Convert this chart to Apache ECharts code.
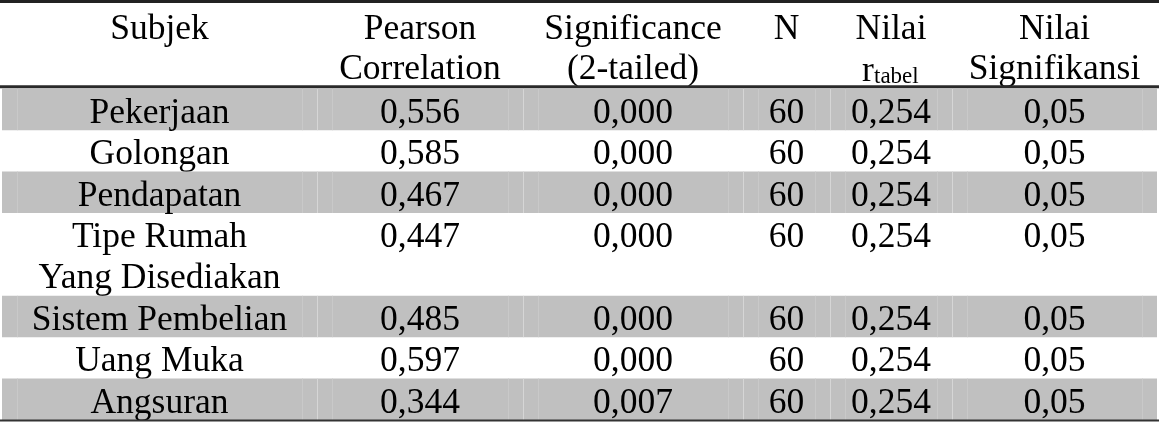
<!DOCTYPE html>
<html><head><meta charset="utf-8">
<script src="https://cdn.jsdelivr.net/npm/echarts@6/dist/echarts.min.js"></script>
<style>html,body{margin:0;padding:0;background:#fff;overflow:hidden}#c{width:1159px;height:422px}</style>
</head><body><div id="c"></div>
<script>
// ---- data ----
const subjects = ['Pekerjaan', 'Golongan', 'Pendapatan', 'Tipe Rumah\nYang Disediakan', 'Sistem Pembelian', 'Uang Muka', 'Angsuran'];
const pearson = [0.556, 0.585, 0.467, 0.447, 0.485, 0.597, 0.344];
const significance = [0.000, 0.000, 0.000, 0.000, 0.000, 0.000, 0.007];
const nValues = [60, 60, 60, 60, 60, 60, 60];
const rTabel = [0.254, 0.254, 0.254, 0.254, 0.254, 0.254, 0.254];
const signifikansi = [0.05, 0.05, 0.05, 0.05, 0.05, 0.05, 0.05];
const headerLine1 = ['Subjek', 'Pearson', 'Significance', 'N', 'Nilai', 'Nilai'];
const headerLine2 = ['', 'Correlation', '(2-tailed)', '', 'r', 'Signifikansi'];
const headerSub = ['', '', '', '', 'tabel', ''];

// ---- layout ----
const colEdges = [2, 317, 523, 743, 830, 952, 1157];
const rowLines = [1, 1, 1, 2, 1, 1, 1];
const headerLines = 2;
const FONT = '35.5px "Liberation Serif", "Times New Roman", serif';
const SUBFONT = '23px "Liberation Serif", "Times New Roman", serif';
const GRAY = '#c0c0c0';

const fmt = (v, d) => v.toFixed(d).replace('.', ',');
const cellText = (i) => [
  subjects[i], fmt(pearson[i], 3), fmt(significance[i], 3), String(nValues[i]), fmt(rTabel[i], 3), fmt(signifikansi[i], 2)
];

const bodyData = [];
let line = headerLines;
subjects.forEach((s, i) => { bodyData.push([line, line + rowLines[i], i]); line += rowLines[i]; });
const totalLines = line;

function txt(x, y, t, font, align) {
  return { type: 'text', x: x, y: y, silent: true,
    style: { text: t, font: font || FONT, fill: '#000', align: align || 'center', verticalAlign: 'middle' } };
}
function hline(x1, x2, y, w, c) {
  return { type: 'line', silent: true, shape: { x1: x1, y1: y, x2: x2, y2: y }, style: { stroke: c, lineWidth: w } };
}
function vline(x, y1, y2, c) {
  return { type: 'line', silent: true, shape: { x1: x, y1: y1, x2: x, y2: y2 }, style: { stroke: c, lineWidth: 1 } };
}
const colX = (api, c) => api.coord([(colEdges[c] + colEdges[c + 1]) / 2, 0])[0];
const edgeX = (api, k) => api.coord([colEdges[k], 0])[0];
const lineY = (api, l) => api.coord([0, l])[1];

function renderBody(params, api) {
  const y0 = api.value(0), y1 = api.value(1), i = api.value(2);
  const top = lineY(api, y0), bottom = lineY(api, y1);
  const children = [];
  const left = edgeX(api, 0), right = edgeX(api, colEdges.length - 1);
  if (i % 2 === 0) {
    children.push({ type: 'rect', silent: true, shape: { x: left, y: top, width: right - left, height: bottom - top }, style: { fill: GRAY } });
    for (let k = 0; k < colEdges.length; k++) {
      const ex = Math.round(edgeX(api, k)) + 0.5;
      if (k > 0 && k < colEdges.length - 1) children.push(vline(ex, top, bottom, '#d6d6d6'));
      if (k < colEdges.length - 1) children.push(vline(ex + 15, top, bottom, '#c9c9c9'));
      if (k > 0) children.push(vline(ex - 15, top, bottom, '#c9c9c9'));
    }
  }
  const texts = cellText(i);
  texts.forEach((t, c) => {
    t.split('\n').forEach((ln, k) => {
      children.push(txt(colX(api, c), lineY(api, y0 + 0.5 + k) + 4, ln));
    });
  });
  return { type: 'group', children: children };
}

function renderHeader(params, api) {
  const children = [];
  const left = api.coord([0, 0])[0], right = api.coord([1159, 0])[0];
  for (let c = 0; c < headerLine1.length; c++) {
    const cx = colX(api, c);
    children.push(txt(cx, lineY(api, 0.5) + 3, headerLine1[c]));
    if (headerSub[c]) {
      const start = cx - 29;
      children.push(txt(start, lineY(api, 1.5) + 4, headerLine2[c], FONT, 'left'));
      children.push(txt(start + 12, lineY(api, 1.5) + 9, headerSub[c], SUBFONT, 'left'));
    } else if (headerLine2[c]) {
      children.push(txt(cx, lineY(api, 1.5) + 2, headerLine2[c]));
    }
  }
  children.push(hline(left, right, 1.5, 3, '#222'));
  children.push(hline(left, right, lineY(api, headerLines) - 2, 3, '#2a2a2a'));
  children.push(hline(left, right, lineY(api, totalLines) + 0.5, 2, '#333'));
  return { type: 'group', children: children };
}

const chart = echarts.init(document.getElementById('c'), null, { renderer: 'canvas' });
chart.setOption({
  animation: false,
  backgroundColor: '#fff',
  grid: { left: 0, right: 0, top: 6, bottom: 2 },
  xAxis: { type: 'value', min: 0, max: 1159, show: false },
  yAxis: { type: 'value', min: 0, max: totalLines, inverse: true, show: false },
  tooltip: { show: false },
  series: [
    { type: 'custom', renderItem: renderBody, data: bodyData, encode: { x: -1, y: [0, 1] }, clip: false, z: 1 },
    { type: 'custom', renderItem: renderHeader, data: [[0, headerLines]], encode: { x: -1, y: [0, 1] }, clip: false, z: 2 }
  ]
});
</script>
</body></html>
